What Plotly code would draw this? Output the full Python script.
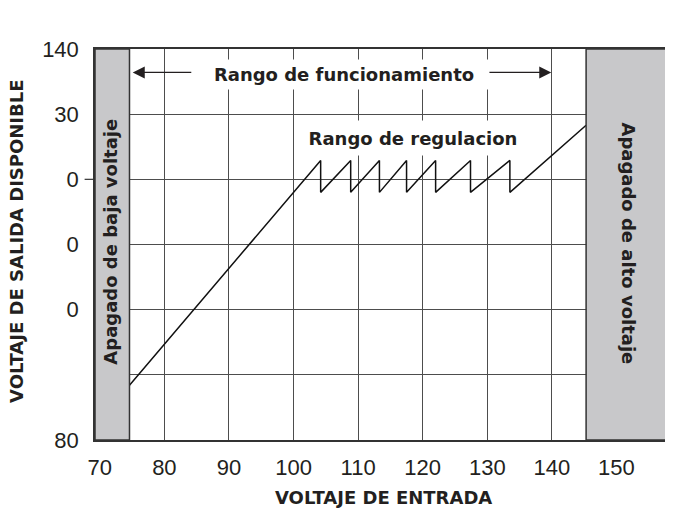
import plotly.graph_objects as go

# ---- data ----
x_tick_vals = [70, 80, 90, 100, 110, 120, 130, 140, 150]
x_tick_text = ["70", "80", "90", "100", "110", "120", "130", "140", "150"]
y_tick_vals = [80, 90, 100, 110, 120, 130, 140]
y_tick_text = ["80", "", "0", "0", "0", "30", "140"]

# output-voltage curve (input voltage -> available output voltage)
curve_x = [74.6, 104.2, 104.2, 108.85, 108.85, 113.3, 113.3, 117.5, 117.5,
           122.0, 122.0, 127.4, 127.4, 133.5, 133.5, 145.3]
curve_y = [88.4, 122.9, 118.0, 122.9, 118.0, 122.9, 118.0, 122.9, 118.0,
           122.9, 118.0, 122.9, 118.0, 122.9, 118.0, 128.3]

x_range = [69.26, 158.6]
y_range = [80, 140]
low_cutoff = 74.6
high_cutoff = 145.3

BOLD = dict(family="DejaVu Sans", size=18, color="#231f20", weight="bold")
TICK = dict(family="Liberation Sans", size=22, color="#231f20")
GRID = "#4d4d4d"
FRAME = "#333333"
GRAY = "#c8c8ca"

fig = go.Figure()
fig.add_trace(go.Scatter(x=curve_x, y=curve_y, mode="lines",
                         line=dict(color="#111111", width=1.5),
                         hoverinfo="skip", showlegend=False))

# page body has an 8px default margin, so the figure is sized to fit the window
fig.update_layout(
    width=665, height=504,
    margin=dict(l=87, r=1, t=41, b=72, autoexpand=False),
    paper_bgcolor="white", plot_bgcolor="white",
    showlegend=False,
    xaxis=dict(range=x_range, tickvals=x_tick_vals, ticktext=x_tick_text,
               showgrid=True, gridcolor=GRID, gridwidth=1,
               showline=True, linecolor=FRAME, linewidth=1.5, mirror=True,
               zeroline=False, ticks="", tickfont=TICK, ticklabelstandoff=7,
               automargin=False),
    yaxis=dict(range=y_range, tickvals=y_tick_vals, ticktext=y_tick_text,
               showgrid=True, gridcolor=GRID, gridwidth=1,
               showline=True, linecolor=FRAME, linewidth=1.5, mirror=True,
               zeroline=False, ticks="", tickfont=TICK, ticklabelstandoff=10,
               automargin=False),
)

# axis titles
fig.add_annotation(x=0.5, y=-0.1458, xref="paper", yref="paper",
                   text="VOLTAJE DE ENTRADA", showarrow=False, font=BOLD,
                   xanchor="center", yanchor="middle")
fig.add_annotation(x=-0.1352, y=0.509, xref="paper", yref="paper",
                   text="VOLTAJE DE SALIDA DISPONIBLE", showarrow=False, font=BOLD,
                   textangle=-90, xanchor="center", yanchor="middle")

# shutdown zones
fig.add_shape(type="rect", xref="x", yref="y", x0=x_range[0], x1=low_cutoff,
              y0=y_range[0], y1=y_range[1], fillcolor=GRAY,
              line=dict(color=FRAME, width=1.5), layer="above")
fig.add_shape(type="rect", xref="x", yref="y", x0=high_cutoff, x1=x_range[1],
              y0=y_range[0], y1=y_range[1], fillcolor=GRAY,
              line=dict(color=FRAME, width=1.5), layer="above")
# small tick at 120
fig.add_shape(type="line", xref="paper", yref="y", x0=-0.018, x1=0, y0=120, y1=120,
              line=dict(color=FRAME, width=1.2))

# text annotations
fig.add_annotation(x=107.8, y=136.1, xref="x", yref="y", text="Rango de funcionamiento",
                   showarrow=False, font=BOLD, bgcolor="white", width=292, height=29,
                   borderpad=0)
fig.add_annotation(x=118.5, y=126.3, xref="x", yref="y", text="Rango de regulacion",
                   showarrow=False, font=BOLD, bgcolor="white", width=222, height=34,
                   borderpad=0)
fig.add_annotation(x=71.7, y=110.4, xref="x", yref="y", text="Apagado de baja voltaje",
                   showarrow=False, font=BOLD, textangle=-90)
fig.add_annotation(x=151.9, y=110.2, xref="x", yref="y", text="Apagado de alto voltaje",
                   showarrow=False, font=BOLD, textangle=90)

# range arrows
fig.add_annotation(x=75.1, y=136.4, ax=84.4, ay=136.4, xref="x", yref="y",
                   axref="x", ayref="y", text="", showarrow=True, arrowhead=2,
                   arrowsize=2.0, arrowwidth=1.2, arrowcolor="#231f20")
fig.add_annotation(x=139.9, y=136.4, ax=130.1, ay=136.4, xref="x", yref="y",
                   axref="x", ayref="y", text="", showarrow=True, arrowhead=2,
                   arrowsize=2.0, arrowwidth=1.2, arrowcolor="#231f20")

fig.write_html("out.html")
